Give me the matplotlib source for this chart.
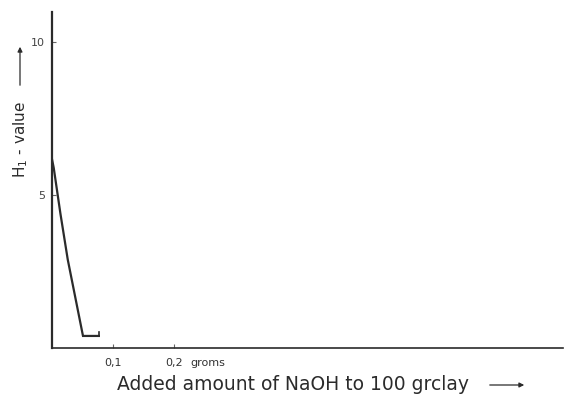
import numpy as np
import matplotlib
matplotlib.use('Agg')
import matplotlib.pyplot as plt
import matplotlib.transforms as mtransforms

# 加入NaOH量 (g / 100 g clay) 与 H1 值
naoh_added = [0.0, 0.003, 0.014, 0.026, 0.040, 0.051, 0.077]
h1_value = [6.2, 5.9, 4.4, 2.9, 1.5, 0.4, 0.4]

y_ticks = [5, 10]
y_tick_labels = ['5', '10']
x_ticks = [0.1, 0.2]
x_tick_labels = ['0,1', '0,2']

ink = '#2b2b2b'

fig = plt.figure(figsize=(5.64, 3.97), dpi=100)
ax = fig.add_axes([0.092, 0.123, 0.906, 0.847])

ax.plot(naoh_added, h1_value, color=ink, lw=1.6, solid_joinstyle='miter')
# 末端的小竖线
ax.plot([naoh_added[-1], naoh_added[-1]], [h1_value[-1], h1_value[-1] + 0.12], color=ink, lw=1.2)

ax.set_xlim(0, 0.838)
ax.set_ylim(0, 11)

for side in ['top', 'right']:
    ax.spines[side].set_visible(False)
ax.spines['left'].set_color(ink)
ax.spines['left'].set_linewidth(1.6)
ax.spines['bottom'].set_color(ink)
ax.spines['bottom'].set_linewidth(1.2)

ax.set_yticks(y_ticks)
ax.set_yticklabels(y_tick_labels, fontsize=8, color='#444444')
ax.set_xticks(x_ticks)
ax.set_xticklabels(x_tick_labels, fontsize=8, color='#333333')
ax.tick_params(axis='both', direction='in', length=3, width=0.8, color='#666666', pad=5)
ax.tick_params(axis='x', pad=7)

# 单位文字，与刻度标签同一行
unit_trans = mtransforms.offset_copy(ax.get_xaxis_transform(), fig=fig, y=-7, units='points')
ax.text(0.2 + 0.027, 0, 'groms', transform=unit_trans,
        fontsize=8, color='#333333', va='top', ha='left')

# 坐标轴标题
fig.text(0.52, 1 - 384 / 397, 'Added amount of NaOH to 100 grclay', fontsize=13.5,
         color=ink, ha='center', va='center')
fig.text(0.036, 1 - 140 / 397, 'H$_1$ - value', fontsize=11, color=ink,
         rotation=90, ha='center', va='center')

# 箭头
fig.add_artist(matplotlib.patches.FancyArrowPatch(
    (487 / 564, 1 - 385 / 397), (527 / 564, 1 - 385 / 397), transform=fig.transFigure,
    arrowstyle='-|>', mutation_scale=7, color=ink, lw=0.9))
fig.add_artist(matplotlib.patches.FancyArrowPatch(
    (20 / 564, 1 - 88 / 397), (20 / 564, 1 - 44 / 397), transform=fig.transFigure,
    arrowstyle='-|>', mutation_scale=7, color=ink, lw=0.9))

fig.savefig('out.png', dpi=100)
